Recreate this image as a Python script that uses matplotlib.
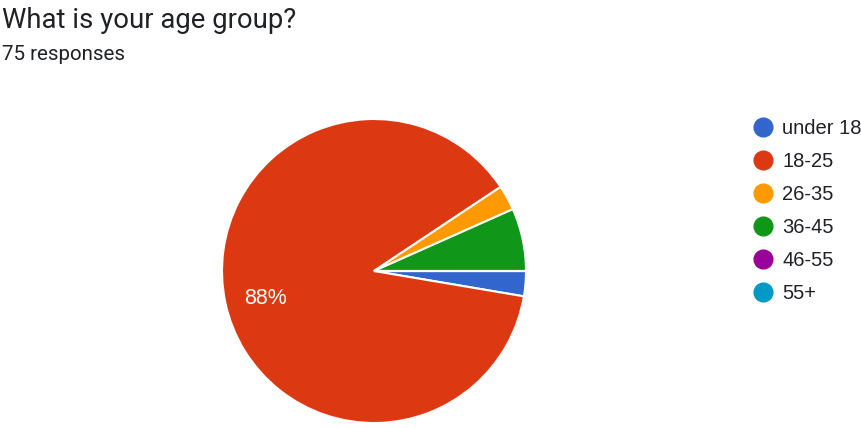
import matplotlib.pyplot as plt
from matplotlib.lines import Line2D

plt.rcParams['font.family'] = ['Roboto', 'DejaVu Sans']

# survey data (75 responses)
labels = ['under 18', '18-25', '26-35', '36-45', '46-55', '55+']
counts = [2, 66, 2, 5, 0, 0]
colors = ['#3366cc', '#dc3912', '#ff9900', '#109618', '#990099', '#0099c6']

W, H = 862, 428
fig = plt.figure(figsize=(W / 100, H / 100), dpi=100)

# pie centre ~(374, 271) px, radius ~152 px
cx, cy, r = 374, 271, 152
ax = fig.add_axes([(cx - r) / W, (H - cy - r) / H, 2 * r / W, 2 * r / H])

def pct_label(p):
    return '%d%%' % round(p) if p > 10 else ''

wedges, texts, autotexts = ax.pie(
    counts, colors=colors, startangle=0, counterclock=False,
    autopct=pct_label, pctdistance=0.73,
    wedgeprops=dict(edgecolor='white', linewidth=1.5),
    textprops=dict(color='white', fontsize=15.5, family='Liberation Sans'))
# nudge the one visible label a little lower, like the google chart
for t in autotexts:
    x, y = t.get_position()
    t.set_position((x, y - 0.03))
ax.set_xlim(-1, 1)
ax.set_ylim(-1, 1)
ax.set_aspect('equal')

fig.text(2 / W, 1 - 20 / H, 'What is your age group?', fontsize=19.8,
         color='#202124', va='center', ha='left')
fig.text(2 / W, 1 - 54 / H, '75 responses', fontsize=14.8,
         color='#202124', va='center', ha='left')

handles = [Line2D([], [], marker='o', linestyle='none', markersize=13.5,
                  markerfacecolor=c, markeredgecolor=c) for c in colors]
fig.legend(handles, labels, loc='upper left',
           bbox_to_anchor=(753 / W, 1 - 119 / H), frameon=False,
           prop=dict(family='Liberation Sans', size=14.5),
           labelcolor='#202124', handlelength=1.0,
           handletextpad=0.45, labelspacing=0.7, borderaxespad=0,
           borderpad=0)

fig.savefig('out.png', dpi=100, facecolor='white')
